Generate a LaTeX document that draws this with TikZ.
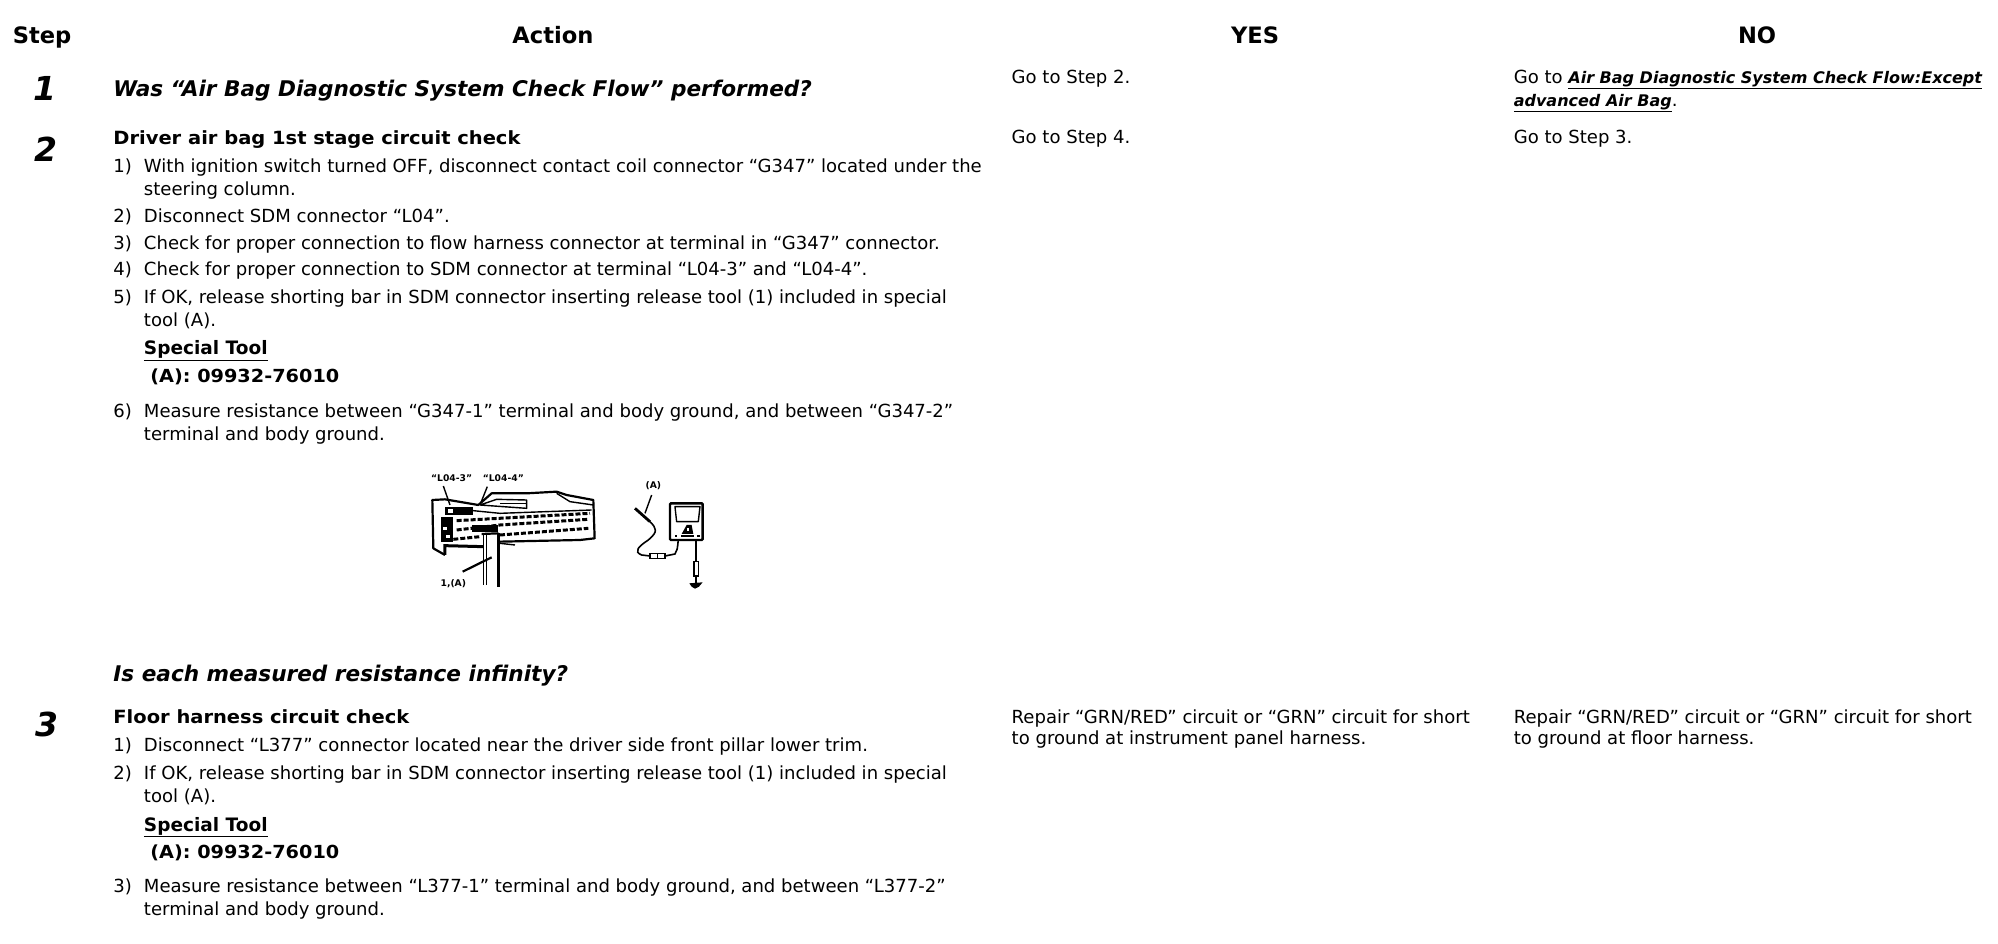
\documentclass[tikz,border=0pt]{standalone}
\usepackage{fontspec}
\setmainfont{DejaVu Sans}
\newfontfamily\widebold[FakeStretch=1.07,UprightFont=* Bold]{DejaVu Sans}
\tikzset{
  txt/.style={anchor=base west,inner sep=0pt,outer sep=0pt,font=\fontsize{18.05}{20}\selectfont},
  boldtxt/.style={txt,font=\fontsize{18.2}{20}\selectfont\widebold},
  tooltitle/.style={txt,font=\fontsize{18.5}{20}\selectfont\bfseries},
  partno/.style={txt,font=\fontsize{18}{20}\selectfont\widebold},
  question/.style={txt,font=\fontsize{21.6}{24}\selectfont\bfseries\itshape},
  head/.style={anchor=base,inner sep=0pt,outer sep=0pt,font=\fontsize{22.6}{26}\selectfont\bfseries},
  stepnum/.style={anchor=base,inner sep=0pt,outer sep=0pt,font=\fontsize{33}{36}\selectfont\bfseries\itshape},
  figlabel/.style={anchor=center,inner sep=0pt,outer sep=0pt,font=\fontsize{9.2}{10}\selectfont\bfseries},
  heavy/.style={line width=2.2pt,line join=round},
  medium/.style={line width=1.4pt,line join=round},
  pins/.style={line width=3pt,dash pattern=on 5pt off 2pt},
}
\newcommand{\ul}[1]{\underline{#1}}
\newcommand{\linkf}[1]{{\fontsize{16}{18}\selectfont\bfseries\itshape\ul{#1}}}
\begin{document}
\begin{tikzpicture}[x=1.2742pt,y=-1.2742pt]
\useasboundingbox (0pt,0pt) rectangle (1998pt,-944pt);
% headers
\node[head] (hstep) at (33,34.5) {Step};
\node[head] (haction) at (434,34.5) {Action};
\node[head] (hyes) at (985,34.5) {YES};
\node[head] (hno) at (1379,34.5) {NO};
% step numbers
\node[stepnum] (n1) at (35,79) {1};
\node[stepnum] (n2) at (36,127) {2};
\node[stepnum] (n3) at (37,578) {3};
% step 1
\node[question] (q1) at (89,75.5) {Was “Air Bag Diagnostic System Check Flow” performed?};
\node[txt] (y1) at (794,65.5) {Go to Step 2.};
\node[txt] (no1a) at (1188,65.5) {Go to \linkf{Air Bag Diagnostic System Check Flow:Except}};
\node[txt] (no1b) at (1188,83.5) {\linkf{advanced Air Bag}.};
% step 2
\node[boldtxt] (t2) at (89,113.5) {Driver air bag 1st stage circuit check};
\node[txt] (y2) at (794,112.5) {Go to Step 4.};
\node[txt] (no2) at (1188,112.5) {Go to Step 3.};
\node[txt] (a1n) at (89,135.5) {1)};
\node[txt] (a1) at (113,135.5) {With ignition switch turned OFF, disconnect contact coil connector “G347” located under the};
\node[txt] (a1b) at (113,153.5) {steering column.};
\node[txt] (a2n) at (89,174.5) {2)};
\node[txt] (a2) at (113,174.5) {Disconnect SDM connector “L04”.};
\node[txt] (a3n) at (89,195.5) {3)};
\node[txt] (a3) at (113,195.5) {Check for proper connection to flow harness connector at terminal in “G347” connector.};
\node[txt] (a4n) at (89,216.5) {4)};
\node[txt] (a4) at (113,216.5) {Check for proper connection to SDM connector at terminal “L04-3” and “L04-4”.};
\node[txt] (a5n) at (89,238.5) {5)};
\node[txt] (a5) at (113,238.5) {If OK, release shorting bar in SDM connector inserting release tool (1) included in special};
\node[txt] (a5b) at (113,256.5) {tool (A).};
\node[tooltitle] (st2) at (113,278.5) {\ul{Special Tool}};
\node[partno] (pn2) at (118,300.5) {(A): 09932-76010};
\node[txt] (a6n) at (89,327.5) {6)};
\node[txt] (a6) at (113,327.5) {Measure resistance between “G347-1” terminal and body ground, and between “G347-2”};
\node[txt] (a6b) at (113,345.5) {terminal and body ground.};
\node[question] (q2) at (89,534.5) {Is each measured resistance infinity?};
% step 3
\node[boldtxt] (t3) at (89,567.5) {Floor harness circuit check};
\node[txt] (b1n) at (89,589.5) {1)};
\node[txt] (b1) at (113,589.5) {Disconnect “L377” connector located near the driver side front pillar lower trim.};
\node[txt] (b2n) at (89,611.5) {2)};
\node[txt] (b2) at (113,611.5) {If OK, release shorting bar in SDM connector inserting release tool (1) included in special};
\node[txt] (b2b) at (113,629.5) {tool (A).};
\node[tooltitle] (st3) at (113,652.5) {\ul{Special Tool}};
\node[partno] (pn3) at (118,673.5) {(A): 09932-76010};
\node[txt] (b3n) at (89,700.5) {3)};
\node[txt] (b3) at (113,700.5) {Measure resistance between “L377-1” terminal and body ground, and between “L377-2”};
\node[txt] (b3b) at (113,718.5) {terminal and body ground.};
\node[txt] (y3a) at (794,567.5) {Repair “GRN/RED” circuit or “GRN” circuit for short};
\node[txt] (y3b) at (794,584.5) {to ground at instrument panel harness.};
\node[txt] (no3a) at (1188,567.5) {Repair “GRN/RED” circuit or “GRN” circuit for short};
\node[txt] (no3b) at (1188,584.5) {to ground at floor harness.};
% figure, in crop coordinates (3 units per pixel from (400,450))
\begin{scope}[shift={(400pt,-450pt)},x=0.3333pt,y=-0.3333pt]
  \node[figlabel] (l1) at (155,85) {“L04-3”};
  \node[figlabel] (l2) at (310,85) {“L04-4”};
  \node[figlabel] (l3) at (160,400) {1,(A)};
  \node[figlabel] (l4) at (760,108) {(A)};
  % connector body
  \draw[heavy] (135,315) -- (100,295) -- (97,150) -- (135,148) -- (235,165) -- (275,130) -- (380,130) -- (470,125) -- (500,135) -- (580,150) -- (584,265) -- (540,270) -- (300,275);
  \draw[line width=3pt] (135,315) -- (135,287) -- (250,290);
  \draw[medium] (150,175) -- (300,190) -- (575,180);
  \draw[medium] (240,165) -- (380,175) -- (380,150) -- (290,148) -- (240,165);
  \draw[medium] (300,160) -- (380,160);
  \draw[medium] (470,130) -- (510,155) -- (580,165);
  \draw[medium] (300,280) -- (345,285);
  \fill (122,200) rectangle (160,275);
  \fill[white] (130,230) rectangle (140,240);
  \fill[white] (138,255) rectangle (150,265);
  \fill (135,170) rectangle (220,195);
  \fill[white] (145,178) rectangle (160,188);
  % pin rows
  \draw[pins] (170,212) -- (570,190);
  \draw[pins] (170,240) -- (300,225) -- (565,208);
  \draw[pins] (300,255) -- (565,235);
  \draw[pins] (160,268) -- (240,260);
  \fill (215,225) rectangle (295,245);
  % stem
  \draw[medium] (250,250) -- (250,405);
  \draw[line width=0.7pt] (258,250) -- (258,405);
  \draw[line width=2.4pt] (295,250) -- (295,410);
  \draw[heavy] (245,252) -- (295,250);
  % leaders
  \draw[medium] (130,108) -- (150,165);
  \draw[medium] (262,110) -- (242,160);
  \draw[heavy] (188,365) -- (275,322);
  % meter
  \draw[line width=2.4pt,rounded corners=1pt] (810,160) rectangle (908,270);
  \draw[medium] (825,170) -- (900,170) -- (895,215) -- (830,215) -- cycle;
  \fill (860,225) -- (875,225) -- (880,252) -- (845,252) -- cycle;
  \fill[white] (860,235) rectangle (868,243);
  \fill (825,255) rectangle (900,262);
  \fill[white] (832,256) rectangle (842,261);
  \fill[white] (882,256) rectangle (892,261);
  % leads
  \draw[medium] (755,135) -- (735,190);
  \draw[line width=2.8pt] (705,175) -- (750,215);
  \draw[line width=1.6pt] (750,215) .. controls (770,235) and (775,245) .. (745,270) .. controls (715,290) and (700,305) .. (725,315) -- (750,318);
  \draw[line width=1.6pt,fill=white] (750,310) rectangle (795,326);
  \draw[line width=1.2pt] (772,310) -- (772,326);
  \draw[line width=1.6pt] (795,318) -- (825,312) .. controls (832,300) .. (835,268);
  \draw[line width=1.6pt] (888,268) -- (888,335);
  \draw[line width=1.6pt] (882,335) rectangle (895,378);
  \draw[line width=1.6pt] (888,378) -- (888,398);
  \fill (868,400) -- (908,397) -- (897,410) -- (885,416) -- (875,410) -- cycle;
\end{scope}
\end{tikzpicture}
\end{document}
